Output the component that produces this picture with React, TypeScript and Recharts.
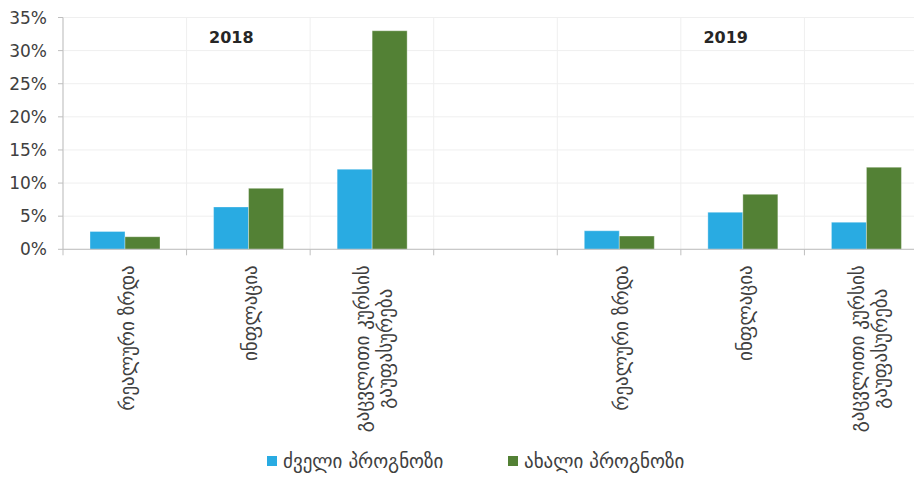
import React from "react"
import { BarChart, Bar, XAxis, YAxis, CartesianGrid, Legend, ReferenceDot } from "recharts"

// categories (unique ids, 2018 block, empty spacer, 2019 block)
const categories = ["growth-2018", "inflation-2018", "fx-2018", "spacer", "growth-2019", "inflation-2019", "fx-2019"]
const tickLabels = [
  ["რეალური ზრდა"],
  ["ინფლაცია"],
  ["გაცვლითი კურსის", "გაუფასურება"],
  [],
  ["რეალური ზრდა"],
  ["ინფლაცია"],
  ["გაცვლითი კურსის", "გაუფასურება"],
]
const oldForecast = [2.7, 6.4, 12.1, null, 2.8, 5.6, 4.1]
const newForecast = [1.9, 9.2, 33.0, null, 2.0, 8.3, 12.4]
const yTicks = [0, 5, 10, 15, 20, 25, 30, 35]
const years = [
  { category: "inflation-2018", label: "2018" },
  { category: "inflation-2019", label: "2019" },
]
const seriesNames = ["ძველი პროგნოზი", "ახალი პროგნოზი"]
const seriesColors = ["#29abe2", "#538135"]

const data = categories.map((id, i) => ({
  id,
  old: oldForecast[i],
  fresh: newForecast[i],
}))

const CHART_W = 925
const CHART_H = 469
const Y_AXIS_W = 55
const MARGIN = { top: 9.5, right: 5, bottom: 0, left: 0 }
const PLOT_W = CHART_W - Y_AXIS_W - MARGIN.left - MARGIN.right
const BAND = PLOT_W / categories.length

const FONT = "'DejaVu Sans', sans-serif"
const NUM_SIZE = 17
const GEO_SIZE = 19
const AXIS_COLOR = "#bfbfbf"
const GRID_COLOR = "#efefef"
const TEXT_COLOR = "#404040"

let measureCtx: CanvasRenderingContext2D | null = null
function textWidth(s: string) {
  if (!measureCtx) {
    measureCtx = document.createElement("canvas").getContext("2d")
  }
  if (!measureCtx) return s.length * GEO_SIZE * 0.5
  measureCtx.font = `${GEO_SIZE}px 'DejaVu Sans'`
  return measureCtx.measureText(s).width
}

// rotated, centre-aligned multi-line label plus the boundary tick marks
function CategoryTick(props: any) {
  const { x, y, index } = props
  const lines: string[] = tickLabels[index] || []
  const longest = Math.max(0, ...lines.map(textWidth))
  const lineGap = 23
  const top = y + 16
  const mid = top + longest / 2
  const left = x - BAND / 2
  return (
    <g>
      <line x1={left} x2={left} y1={y} y2={y + 6} stroke={AXIS_COLOR} />
      {index === categories.length - 1 && (
        <line x1={left + BAND} x2={left + BAND} y1={y} y2={y + 6} stroke={AXIS_COLOR} />
      )}
      {lines.map((line, i) => {
        const lx = x + 2 + (i - (lines.length - 1) / 2) * lineGap
        return (
          <text
            key={i}
            x={lx}
            y={mid}
            transform={`rotate(-90, ${lx}, ${mid})`}
            textAnchor="middle"
            dominantBaseline="central"
            fontFamily={FONT}
            fontSize={GEO_SIZE}
            fill={TEXT_COLOR}
          >
            {line}
          </text>
        )
      })}
    </g>
  )
}

function LegendContent() {
  return (
    <div style={{ display: "flex", alignItems: "center", fontFamily: FONT, fontSize: GEO_SIZE, color: TEXT_COLOR }}>
      {seriesNames.map((name, i) => (
        <div key={name} style={{ display: "flex", alignItems: "center", width: i === 0 ? 241 : "auto" }}>
          <span style={{ width: 10, height: 10, background: seriesColors[i], marginRight: 6, display: "inline-block" }} />
          <span>{name}</span>
        </div>
      ))}
    </div>
  )
}

export default function App() {
  return (
    <div style={{ width: 914, height: CHART_H, overflow: "hidden" }}>
      <BarChart width={CHART_W} height={CHART_H} data={data} margin={MARGIN} barGap={0} barSize={35}>
        <CartesianGrid
          stroke={GRID_COLOR}
          verticalCoordinatesGenerator={({ offset }: any) =>
            categories.map((_, i) => offset.left + (i * offset.width) / categories.length).concat(offset.left + offset.width)
          }
        />
        <XAxis
          dataKey="id"
          interval={0}
          height={CHART_H - MARGIN.top - 231.8}
          tick={<CategoryTick />}
          tickLine={false}
          tickSize={0}
          tickMargin={0}
          axisLine={{ stroke: AXIS_COLOR }}
        />
        <YAxis
          width={Y_AXIS_W}
          domain={[0, 35]}
          ticks={yTicks}
          tickFormatter={(v) => `${v}%`}
          tick={{ fontFamily: FONT, fontSize: NUM_SIZE, fill: TEXT_COLOR }}
          tickSize={5}
          tickMargin={11}
          tickLine={{ stroke: AXIS_COLOR }}
          axisLine={{ stroke: AXIS_COLOR }}
        />
        <Legend
          layout="horizontal"
          verticalAlign="middle"
          align="center"
          content={<LegendContent />}
          wrapperStyle={{ top: 442, left: 259, width: 500, height: 26 }}
        />
        <Bar dataKey="old" name={seriesNames[0]} fill={seriesColors[0]} stroke="#ffffff" strokeOpacity={0.35} isAnimationActive={false} />
        <Bar dataKey="fresh" name={seriesNames[1]} fill={seriesColors[1]} stroke="#ffffff" strokeOpacity={0.35} isAnimationActive={false} />
        {years.map((yr) => (
          <ReferenceDot
            key={yr.label}
            x={yr.category}
            y={32}
            r={0}
            fill="none"
            stroke="none"
            label={{ value: yr.label, position: "center", dx: -17, fontFamily: FONT, fontSize: 16, fontWeight: "bold", fill: "#262626" }}
          />
        ))}
      </BarChart>
    </div>
  )
}
